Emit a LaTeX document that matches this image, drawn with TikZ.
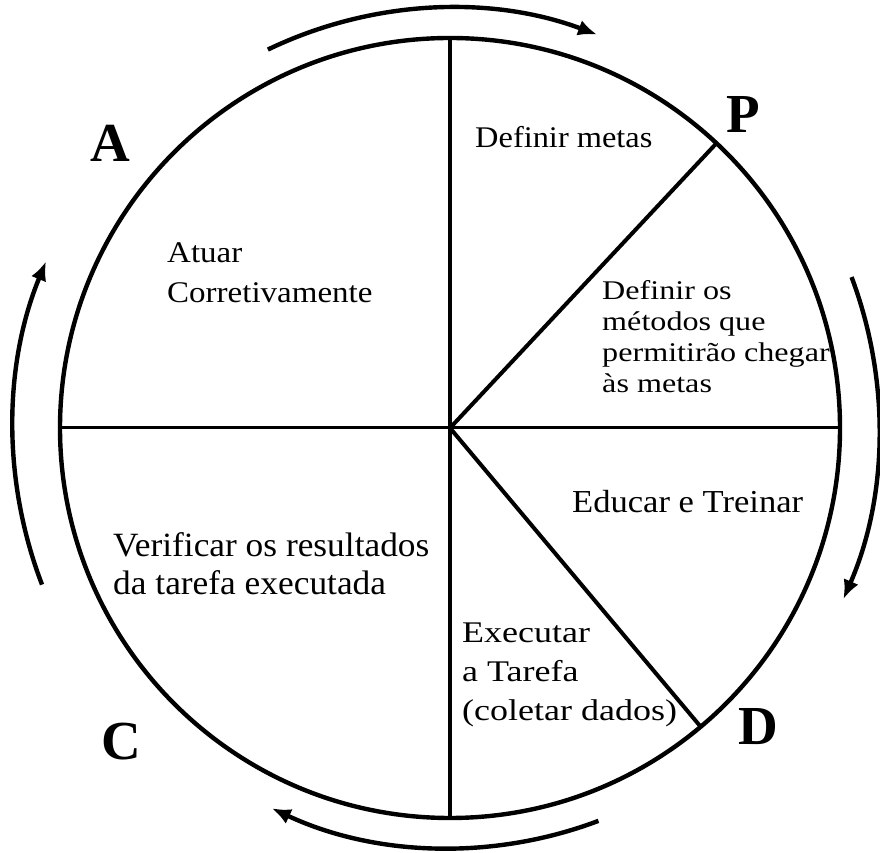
\documentclass[tikz,border=0pt]{standalone}
\usepackage{fontspec}
\setmainfont{Liberation Serif}
\usetikzlibrary{arrows.meta}
\tikzset{
  ring/.style={line width=4.4pt},
  divider/.style={line width=4pt},
  cyclearrow/.style={line width=4.4pt, -{Latex[length=19pt,width=16pt]}},
  bigletter/.style={font=\fontsize{55}{60}\selectfont\bfseries, inner sep=0pt},
  blocktext/.style={anchor=base west, inner sep=0pt},
}
\begin{document}
\begin{tikzpicture}[x=1pt,y=1pt]
\useasboundingbox (0,0) rectangle (880,853);
\coordinate (c) at (450,425);
% circle
\node[ring, draw, circle, minimum size=780pt, inner sep=0pt] (ring) at (c) {};
% dividers
\coordinate (top) at (450,815);
\coordinate (bot) at (450,35);
\coordinate (lft) at (60,425);
\coordinate (rgt) at (840,425);
\coordinate (pend) at ([shift={(46.9:390)}]c);
\coordinate (dend) at ([shift={(-50:390)}]c);
\draw[divider] (top) -- (bot);
\draw[line width=3pt] (lft) -- (rgt);
\draw[divider] (c) -- (pend);
\draw[divider] (c) -- (dend);
% cycle arrows
\draw[cyclearrow] ([shift={(115.7:420)}]c) arc[start angle=115.7, end angle=69.5, radius=420];
\draw[cyclearrow] ([shift={(20.6:429)}]c) arc[start angle=20.6, end angle=-23.5, radius=429];
\draw[cyclearrow] ([shift={(-69.3:420)}]c) arc[start angle=-69.3, end angle=-115.1, radius=420];
\draw[cyclearrow] ([shift={(201:437)}]c) arc[start angle=201, end angle=157.6, radius=437];
% letters
\node[bigletter] (A) at (110,710) {A};
\node[bigletter] (P) at (743,738) {P};
\node[bigletter] (C) at (121,111) {C};
\node[bigletter] (D) at (758,126) {D};
% texts
\node[blocktext, xscale=1.08] (metas) at (475,705) {\fontsize{30}{36}\selectfont Definir metas};
\node[blocktext, xscale=1.1] (atuar) at (167,590) {\fontsize{30}{40}\selectfont\begin{tabular}[t]{@{}l@{}}Atuar\\Corretivamente\end{tabular}};
\node[blocktext, xscale=1.19] (metodos) at (602,553) {\fontsize{27}{31}\selectfont\begin{tabular}[t]{@{}l@{}}Definir os\\métodos que\\permitirão chegar\\às metas\end{tabular}};
\node[blocktext, xscale=1.08] (educar) at (572,340) {\fontsize{32}{38}\selectfont Educar e Treinar};
\node[blocktext, xscale=1.04] (verificar) at (113,296) {\fontsize{34}{38}\selectfont\begin{tabular}[t]{@{}l@{}}Verificar os resultados\\da tarefa executada\end{tabular}};
\node[blocktext, xscale=1.2] (executar) at (462,210) {\fontsize{30}{39}\selectfont\begin{tabular}[t]{@{}l@{}}Executar\\a Tarefa\\(coletar dados)\end{tabular}};
\end{tikzpicture}
\end{document}
